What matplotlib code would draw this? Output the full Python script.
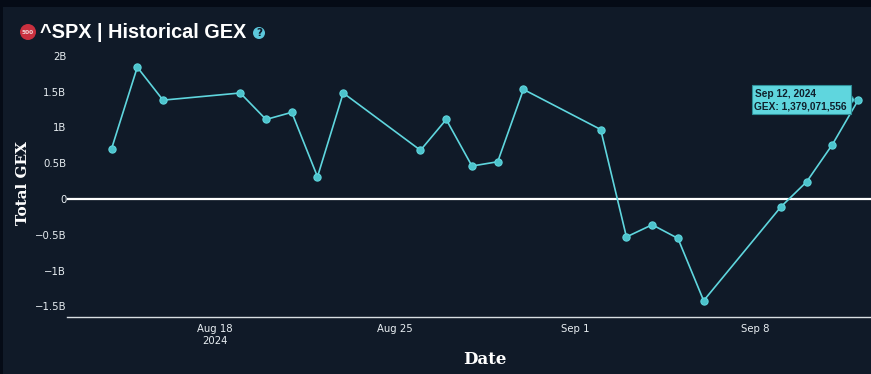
import matplotlib
matplotlib.use("Agg")
import matplotlib.pyplot as plt
import matplotlib.dates as mdates
from matplotlib.patches import Rectangle, Circle, Polygon
from datetime import datetime, timedelta

W, H = 871, 374
BG = '#101a28'
CYAN = '#5fd6de'

dates = ['2024-08-14', '2024-08-15', '2024-08-16', '2024-08-19', '2024-08-20', '2024-08-21',
         '2024-08-22', '2024-08-23', '2024-08-26', '2024-08-27', '2024-08-28', '2024-08-29',
         '2024-08-30', '2024-09-02', '2024-09-03', '2024-09-04', '2024-09-05', '2024-09-06',
         '2024-09-09', '2024-09-10', '2024-09-11', '2024-09-12']
gex = [0.70, 1.84, 1.38, 1.48, 1.11, 1.21, 0.31, 1.48, 0.68, 1.11, 0.46, 0.52,
       1.53, 0.97, -0.53, -0.36, -0.55, -1.42, -0.11, 0.24, 0.76, 1.379]
y_ticks = [-1.5, -1, -0.5, 0, 0.5, 1, 1.5, 2]
y_labels = ['\u22121.5B', '\u22121B', '\u22120.5B', '0', '0.5B', '1B', '1.5B', '2B']
x_ticks = ['2024-08-18', '2024-08-25', '2024-09-01', '2024-09-08']
x_labels = ['Aug 18\n2024', 'Aug 25', 'Sep 1', 'Sep 8']

x = [datetime.strptime(d, '%Y-%m-%d') for d in dates]

fig = plt.figure(figsize=(W / 100, H / 100), dpi=100, facecolor=BG)

# darker strips along the top and left of the screenshot
fig.patches.append(Rectangle((0, (H - 7) / H), 1, 7 / H, transform=fig.transFigure, color='#050b16', lw=0))
fig.patches.append(Rectangle((0, 0), 3 / W, 1, transform=fig.transFigure, color='#050b16', lw=0))

ax = fig.add_axes([67 / W, (H - 317) / H, (W - 67) / W, 272 / H], facecolor=BG)
ax.plot(x, gex, color=CYAN, lw=1.2, marker='o', ms=5.2, mfc='#4cc3cc', mec=CYAN, mew=0.8, zorder=3, clip_on=False)
ax.axhline(0, color='white', lw=1.6, zorder=2)

ax.set_xlim(datetime(2024, 8, 18) - timedelta(days=5.73), datetime(2024, 9, 12) + timedelta(days=0.5))
ax.set_ylim(-1.648, 2.15)
ax.set_yticks(y_ticks)
ax.set_yticklabels(y_labels)
ax.set_xticks([mdates.date2num(datetime.strptime(d, '%Y-%m-%d')) for d in x_ticks])
ax.set_xticklabels(x_labels)
ax.tick_params(axis='both', length=0, colors='#e8eef2', labelsize=7.3, pad=0.5, labelfontfamily='DejaVu Sans')
ax.tick_params(axis='x', pad=5)
for s in ['top', 'right', 'left']:
    ax.spines[s].set_visible(False)
ax.spines['bottom'].set_color('#d8dee2')
ax.spines['bottom'].set_linewidth(1.0)

fig.text(485 / W, (H - 359) / H, 'Date', color='white', fontsize=12, fontweight='bold',
         family='DejaVu Serif', ha='center', va='center')
fig.text(23 / W, (H - 183) / H, 'Total GEX', color='white', fontsize=11, fontweight='bold',
         family='DejaVu Serif', rotation=90, ha='center', va='center')

# title row
fig.text(40 / W, (H - 32) / H, '^SPX | Historical GEX', color='white', fontsize=14.3, fontweight='bold',
         family='Liberation Sans', ha='left', va='center')
px = fig.add_axes([0, 0, 1, 1], facecolor='none', zorder=5)
px.set_xlim(0, W)
px.set_ylim(H, 0)
px.axis('off')
px.add_patch(Circle((28, 32), 8, color='#c9303f', lw=0))
px.text(28, 32.3, '500', color='#f3d5d8', fontsize=4.2, fontweight='bold', ha='center', va='center')
px.add_patch(Circle((259, 33), 6, color='#5cc8dc', lw=0))
px.text(259, 33.3, '?', color=BG, fontsize=7.5, fontweight='bold', ha='center', va='center')

# tooltip for the last point
px.add_patch(Polygon([(851, 95), (855, 100), (851, 104)], closed=True, fc=CYAN, ec='#2e8f98', lw=0.6))
px.add_patch(Rectangle((752, 85), 99, 29, fc=CYAN, ec='#2e8f98', lw=0.8))
px.text(755, 93.5, 'Sep 12, 2024', color='#10202c', fontsize=7.3, fontweight='bold',
        family='Liberation Sans', ha='left', va='center')
px.text(754, 106.5, 'GEX: 1,379,071,556', color='#10202c', fontsize=7.3, fontweight='bold',
        family='Liberation Sans', ha='left', va='center')

fig.savefig('out.png', dpi=100, facecolor=BG)
